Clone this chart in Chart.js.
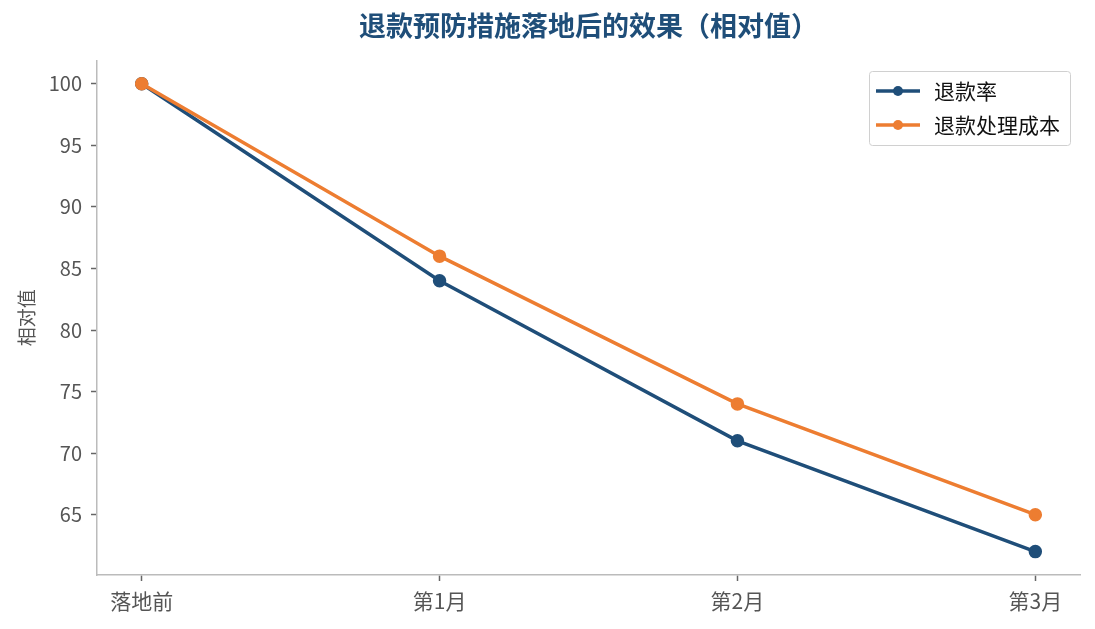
<!DOCTYPE html>
<html>
<head>
<meta charset="utf-8">
<script src="https://cdn.jsdelivr.net/npm/chart.js@4/dist/chart.umd.min.js"></script>
<style>
  html, body { margin: 0; padding: 0; background: #fff; }
  #wrap { width: 1095px; height: 629px; }
</style>
</head>
<body>
<div id="wrap"><canvas id="c"></canvas></div>
<script>
// data
const stages = ['落地前', '第1月', '第2月', '第3月'];
const refundRate = [100, 84, 71, 62];
const refundCost = [100, 86, 74, 65];
const yTicks = [65, 70, 75, 80, 85, 90, 95, 100];

const FONT = '"Noto Sans CJK SC", "Noto Sans", sans-serif';
const BLUE = '#1f4e79';
const ORANGE = '#ed7d31';

function pts(arr){ return arr.map((v, i) => ({x: i, y: v})); }

// legend drawn inside the plot, top-right
const innerLegend = {
  id: 'innerLegend',
  afterDraw(chart){
    const ctx = chart.ctx;
    const x = 869, y = 71, w = 201, h = 74;
    ctx.save();
    ctx.fillStyle = 'rgba(255,255,255,0.9)';
    ctx.strokeStyle = '#d0d0d0';
    ctx.lineWidth = 1;
    ctx.beginPath();
    ctx.roundRect(x + 0.5, y + 0.5, w, h, 3);
    ctx.fill();
    ctx.stroke();
    const items = [chart.data.datasets[0], chart.data.datasets[1]];
    items.forEach((ds, i) => {
      const cy = y + 20 + i * 34;
      ctx.strokeStyle = ds.borderColor;
      ctx.lineWidth = 3.5;
      ctx.beginPath();
      ctx.moveTo(876, cy);
      ctx.lineTo(920, cy);
      ctx.stroke();
      ctx.fillStyle = ds.borderColor;
      ctx.beginPath();
      ctx.arc(898, cy, 5, 0, Math.PI * 2);
      ctx.fill();
      ctx.fillStyle = '#111';
      ctx.font = '21px ' + FONT;
      ctx.textBaseline = 'middle';
      ctx.fillText(ds.label, 934, cy);
    });
    ctx.restore();
  }
};

new Chart(document.getElementById('c'), {
  type: 'line',
  data: {
    datasets: [
      { label: '退款率', data: pts(refundRate), borderColor: BLUE, backgroundColor: BLUE,
        borderWidth: 3.5, pointRadius: 5, pointHoverRadius: 5, order: 1 },
      { label: '退款处理成本', data: pts(refundCost), borderColor: ORANGE, backgroundColor: ORANGE,
        borderWidth: 3.5, pointRadius: 5, pointHoverRadius: 5, order: 0 }
    ]
  },
  options: {
    responsive: true,
    maintainAspectRatio: false,
    animation: false,
    layout: { padding: { left: 0, right: 15, top: 0, bottom: 0 } },
    plugins: {
      legend: { display: false },
      tooltip: { enabled: false },
      title: {
        display: true,
        fullSize: false,
        text: '退款预防措施落地后的效果（相对值）',
        color: BLUE,
        font: { family: FONT, size: 27, weight: 'bold' },
        padding: { top: 10, bottom: 18 }
      }
    },
    scales: {
      x: {
        type: 'linear',
        min: -0.15, max: 3.15,
        afterBuildTicks(s){ s.ticks = stages.map((_, i) => ({value: i})); },
        afterFit(s){ s.height = 54; },
        ticks: {
          callback: v => stages[v],
          color: '#555',
          font: { family: FONT, size: 21 },
          padding: 7
        },
        grid: { display: true, drawOnChartArea: false, tickLength: 6, tickColor: '#666', tickWidth: 1.5 },
        border: { color: '#bbb', width: 1.5 }
      },
      y: {
        min: 60.1, max: 101.9,
        afterBuildTicks(s){ s.ticks = yTicks.map(v => ({value: v})); },
        afterFit(s){ s.width = 97; },
        ticks: {
          color: '#555',
          font: { family: FONT, size: 20 },
          padding: 9
        },
        title: {
          display: true,
          text: '相对值',
          color: '#555',
          font: { family: FONT, size: 19 },
          padding: { top: 15, bottom: 0 }
        },
        grid: { display: true, drawOnChartArea: false, tickLength: 6, tickColor: '#666', tickWidth: 1.5 },
        border: { color: '#bbb', width: 1.5 }
      }
    }
  },
  plugins: [innerLegend]
});
</script>
</body>
</html>
